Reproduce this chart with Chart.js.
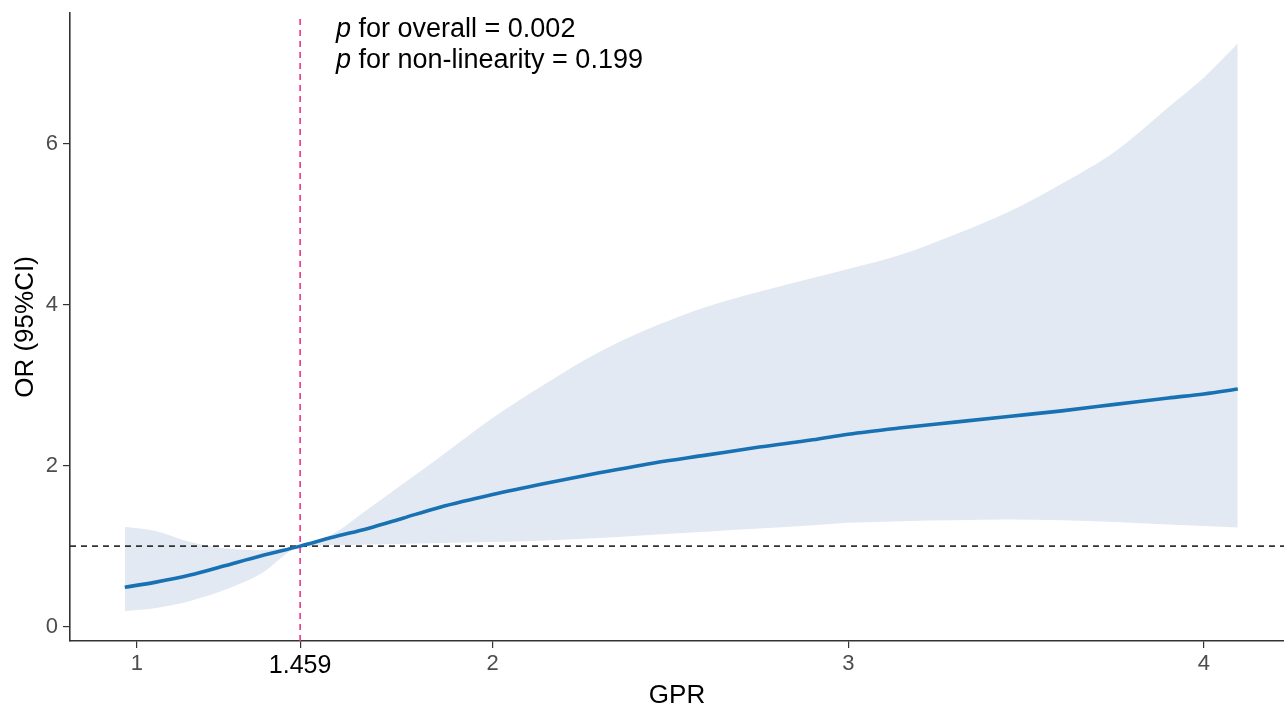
<!DOCTYPE html>
<html>
<head>
<meta charset="utf-8">
<script src="https://cdn.jsdelivr.net/npm/chart.js@4.4.0/dist/chart.umd.min.js"></script>
<style>
    html, body { margin: 0; padding: 0; background: #fff; overflow: hidden; }
    #rcsChart { display: block; }
</style>
</head>
<body>
<canvas id="rcsChart" width="1284" height="706"></canvas>
<script>
// GPR values along the spline
const gpr = [0.966, 1.05, 1.15, 1.25, 1.35, 1.459, 1.55, 1.65, 1.75, 1.85, 2.0, 2.15, 2.3,
    2.45, 2.6, 2.75, 2.9, 3.0, 3.15, 3.3, 3.45, 3.6, 3.75, 3.9, 4.0, 4.095];
// odds ratio estimate
const orFit = [0.49, 0.55, 0.64, 0.76, 0.88, 1.00, 1.11, 1.22, 1.35, 1.48, 1.64, 1.78, 1.91,
    2.03, 2.13, 2.23, 2.32, 2.39, 2.47, 2.54, 2.61, 2.68, 2.76, 2.84, 2.89, 2.95];
// 95% CI bounds
const orUpper = [1.24, 1.19, 1.05, 0.97, 0.95, 1.01, 1.15, 1.46, 1.78, 2.10, 2.59, 3.02, 3.41,
    3.72, 3.97, 4.16, 4.33, 4.44, 4.62, 4.87, 5.15, 5.50, 5.90, 6.45, 6.82, 7.24];
const orLower = [0.195, 0.23, 0.32, 0.46, 0.66, 0.99, 1.01, 1.02, 1.03, 1.04, 1.05, 1.07, 1.10,
    1.14, 1.18, 1.22, 1.26, 1.29, 1.31, 1.32, 1.33, 1.32, 1.30, 1.27, 1.25, 1.23];

const xTicks = [1, 1.459, 2, 3, 4];
const yTicks = [0, 2, 4, 6];
const cutoff = 1.459;
const refOR = 1;
const pOverall = '0.002';
const pNonLinear = '0.199';

const X_MIN = 0.812, X_MAX = 4.225;
const Y_MIN = -0.178, Y_MAX = 7.62;

const toPts = (ys) => gpr.map((x, i) => ({ x: x, y: ys[i] }));

const FONT = "'Liberation Sans', Arial, sans-serif";

// p-value annotation
const pTextPlugin = {
    id: 'pText',
    afterDraw(chart) {
        const ctx = chart.ctx;
        ctx.save();
        ctx.fillStyle = '#000';
        ctx.textBaseline = 'alphabetic';
        const lines = [
            [' for overall = ' + pOverall, 37],
            [' for non-linearity = ' + pNonLinear, 68]
        ];
        lines.forEach(([rest, y]) => {
            ctx.font = 'italic 27px ' + FONT;
            ctx.fillText('p', 336, y);
            const w = ctx.measureText('p').width;
            ctx.font = '27px ' + FONT;
            ctx.fillText(rest, 336 + w, y);
        });
        ctx.restore();
    }
};

const ctx = document.getElementById('rcsChart').getContext('2d');

new Chart(ctx, {
    type: 'line',
    data: {
        datasets: [
            {
                label: 'OR',
                data: toPts(orFit),
                borderColor: '#1771b3',
                borderWidth: 3.6,
                pointRadius: 0,
                fill: false,
                cubicInterpolationMode: 'monotone',
                order: 0
            },
            {
                label: 'ref',
                data: [{ x: X_MIN, y: refOR }, { x: X_MAX, y: refOR }],
                borderColor: '#333333',
                borderWidth: 1.6,
                borderDash: [6, 5],
                pointRadius: 0,
                fill: false,
                order: 1
            },
            {
                label: 'cutoff',
                data: [{ x: cutoff, y: Y_MIN }, { x: cutoff, y: 7.56 }],
                borderColor: '#e7358f',
                borderWidth: 1.6,
                borderDash: [6, 5],
                pointRadius: 0,
                fill: false,
                order: 1
            },
            {
                label: 'upper',
                data: toPts(orUpper),
                borderWidth: 0,
                pointRadius: 0,
                backgroundColor: '#e3e9f2',
                fill: '+1',
                cubicInterpolationMode: 'monotone',
                order: 2
            },
            {
                label: 'lower',
                data: toPts(orLower),
                borderWidth: 0,
                pointRadius: 0,
                fill: false,
                cubicInterpolationMode: 'monotone',
                order: 2
            }
        ]
    },
    options: {
        responsive: false,
        animation: false,
        layout: { padding: { top: 13, right: 0, left: 0, bottom: 0 } },
        plugins: {
            legend: { display: false },
            tooltip: { enabled: false }
        },
        scales: {
            x: {
                type: 'linear',
                min: X_MIN,
                max: X_MAX,
                afterBuildTicks: (scale) => {
                    scale.ticks = xTicks.map(v => ({ value: v }));
                },
                afterFit: (scale) => {
                    scale.height = 65;
                    scale.paddingLeft = 0;
                    scale.paddingRight = 0;
                },
                ticks: {
                    autoSkip: false,
                    maxRotation: 0,
                    padding: 3,
                    color: (c) => c.tick && c.tick.value === cutoff ? '#000' : '#4d4d4d',
                    font: (c) => ({
                        family: FONT,
                        size: c.tick && c.tick.value === cutoff ? 25 : 22
                    }),
                    callback: (v) => String(v)
                },
                grid: {
                    drawOnChartArea: false,
                    drawTicks: true,
                    tickLength: 7,
                    color: '#333333',
                    lineWidth: 1.2
                },
                border: { display: true, color: '#333333', width: 1.6 },
                title: {
                    display: true,
                    text: 'GPR',
                    color: '#000',
                    font: { family: FONT, size: 26, lineHeight: 0.8 },
                    padding: { top: 0, bottom: 0 }
                }
            },
            y: {
                type: 'linear',
                min: Y_MIN,
                max: Y_MAX,
                afterBuildTicks: (scale) => {
                    scale.ticks = yTicks.map(v => ({ value: v }));
                },
                afterFit: (scale) => {
                    scale.width = 70;
                    scale.paddingTop = 0;
                    scale.paddingBottom = 0;
                },
                ticks: {
                    padding: 5,
                    color: '#4d4d4d',
                    font: { family: FONT, size: 22 }
                },
                grid: {
                    drawOnChartArea: false,
                    drawTicks: true,
                    tickLength: 7,
                    color: '#333333',
                    lineWidth: 1.2
                },
                border: { display: true, color: '#333333', width: 1.6 },
                title: {
                    display: true,
                    text: 'OR (95%CI)',
                    color: '#000',
                    font: { family: FONT, size: 26 },
                    padding: { top: 10, bottom: 0 }
                }
            }
        }
    },
    plugins: [pTextPlugin]
});
</script>
</body>
</html>
